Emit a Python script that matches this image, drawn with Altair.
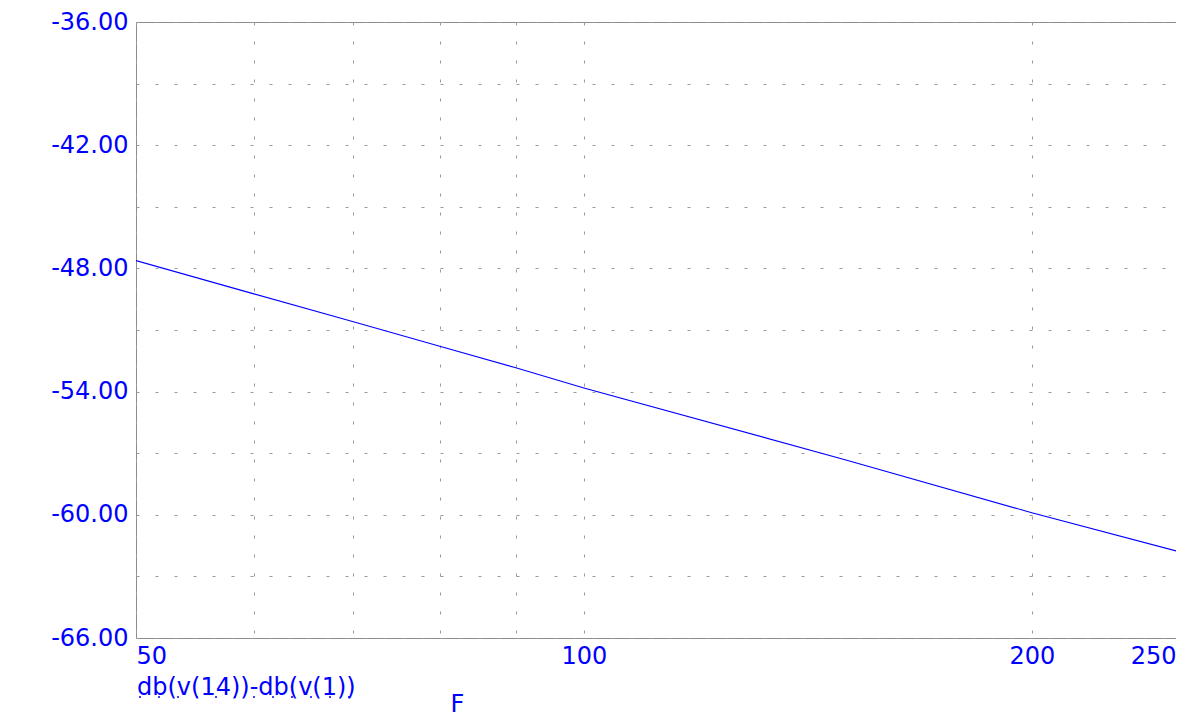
import altair as alt
import pandas as pd

# Data
freq = [50, 60, 70, 80, 90, 100, 150, 200, 250]
db_vals = [-47.62, -49.24, -50.60, -51.79, -52.84, -53.82, -57.33, -59.90, -61.76]

x_grid_values = [50, 60, 70, 80, 90, 100, 200, 250]
x_label_values = [50, 100, 200, 250]
y_grid_values = [-36, -39, -42, -45, -48, -51, -54, -57, -60, -63, -66]

trace_name = ["db(v(14))-db(v(1))"]
x_name = "F"

FONT = "DejaVu Sans"
BLUE = "#0000ff"
GRID = "#9a9a9a"

df = pd.DataFrame({"F": freq, "db": db_vals})
label_df = pd.DataFrame({"name": trace_name})

x_label_list = ",".join(str(v) for v in x_label_values)

x_enc = alt.X(
    "F:Q",
    scale=alt.Scale(type="log", domain=[50, 250], nice=False),
    axis=alt.Axis(
        values=x_grid_values,
        labelExpr=f"indexof([{x_label_list}], datum.value) >= 0 ? '' + datum.value : ''",
        labelFlush=True,
        labelOverlap=False,
        labelFont=FONT,
        labelFontSize=24,
        labelColor=BLUE,
        labelPadding=6,
        labelBaseline="top",
        ticks=False,
        domain=False,
        grid=True,
        gridColor=GRID,
        gridDash=[3, 16],
        gridWidth=1,
        title=x_name,
        titleFont=FONT,
        titleFontSize=24,
        titleFontWeight="normal",
        titleColor=BLUE,
        titleX=321,
        titleY=73,
        titleAlign="center",
        titleBaseline="alphabetic",
    ),
)

y_enc = alt.Y(
    "db:Q",
    scale=alt.Scale(domain=[-66, -36], nice=False, zero=False),
    axis=alt.Axis(
        values=y_grid_values,
        labelExpr="(datum.value % 6 == 0) ? (datum.value < 0 ? '-' + format(-datum.value, '.2f') : format(datum.value, '.2f')) : ''",
        labelOverlap=False,
        labelFont=FONT,
        labelFontSize=24,
        labelColor=BLUE,
        labelPadding=8,
        labelBaseline="middle",
        labelAlign="right",
        ticks=False,
        domain=False,
        grid=True,
        gridColor=GRID,
        gridDash=[3, 16],
        gridWidth=1,
        title=None,
    ),
)

line = alt.Chart(df).mark_line(color=BLUE, strokeWidth=1.1, clip=True).encode(
    x=x_enc, y=y_enc
)

trace_label = alt.Chart(label_df).mark_text(
    align="left", baseline="alphabetic", font=FONT, fontSize=24, color=BLUE
).encode(x=alt.value(1), y=alt.value(673), text="name:N")

underline = alt.Chart(label_df).mark_rule(
    color=BLUE, strokeDash=[2, 17], strokeWidth=1.5
).encode(x=alt.value(3), x2=alt.value(218), y=alt.value(675))

chart = (
    alt.layer(line, trace_label, underline)
    .properties(
        width=1040,
        height=616,
        padding={"left": 128, "top": 14, "right": 0, "bottom": 80},
        autosize=alt.AutoSizeParams(type="none"),
        background="white",
    )
    .configure_view(stroke="#8c8c8c", strokeWidth=1)
)

chart.save("out.html", embed_options={"renderer": "svg", "actions": False})
